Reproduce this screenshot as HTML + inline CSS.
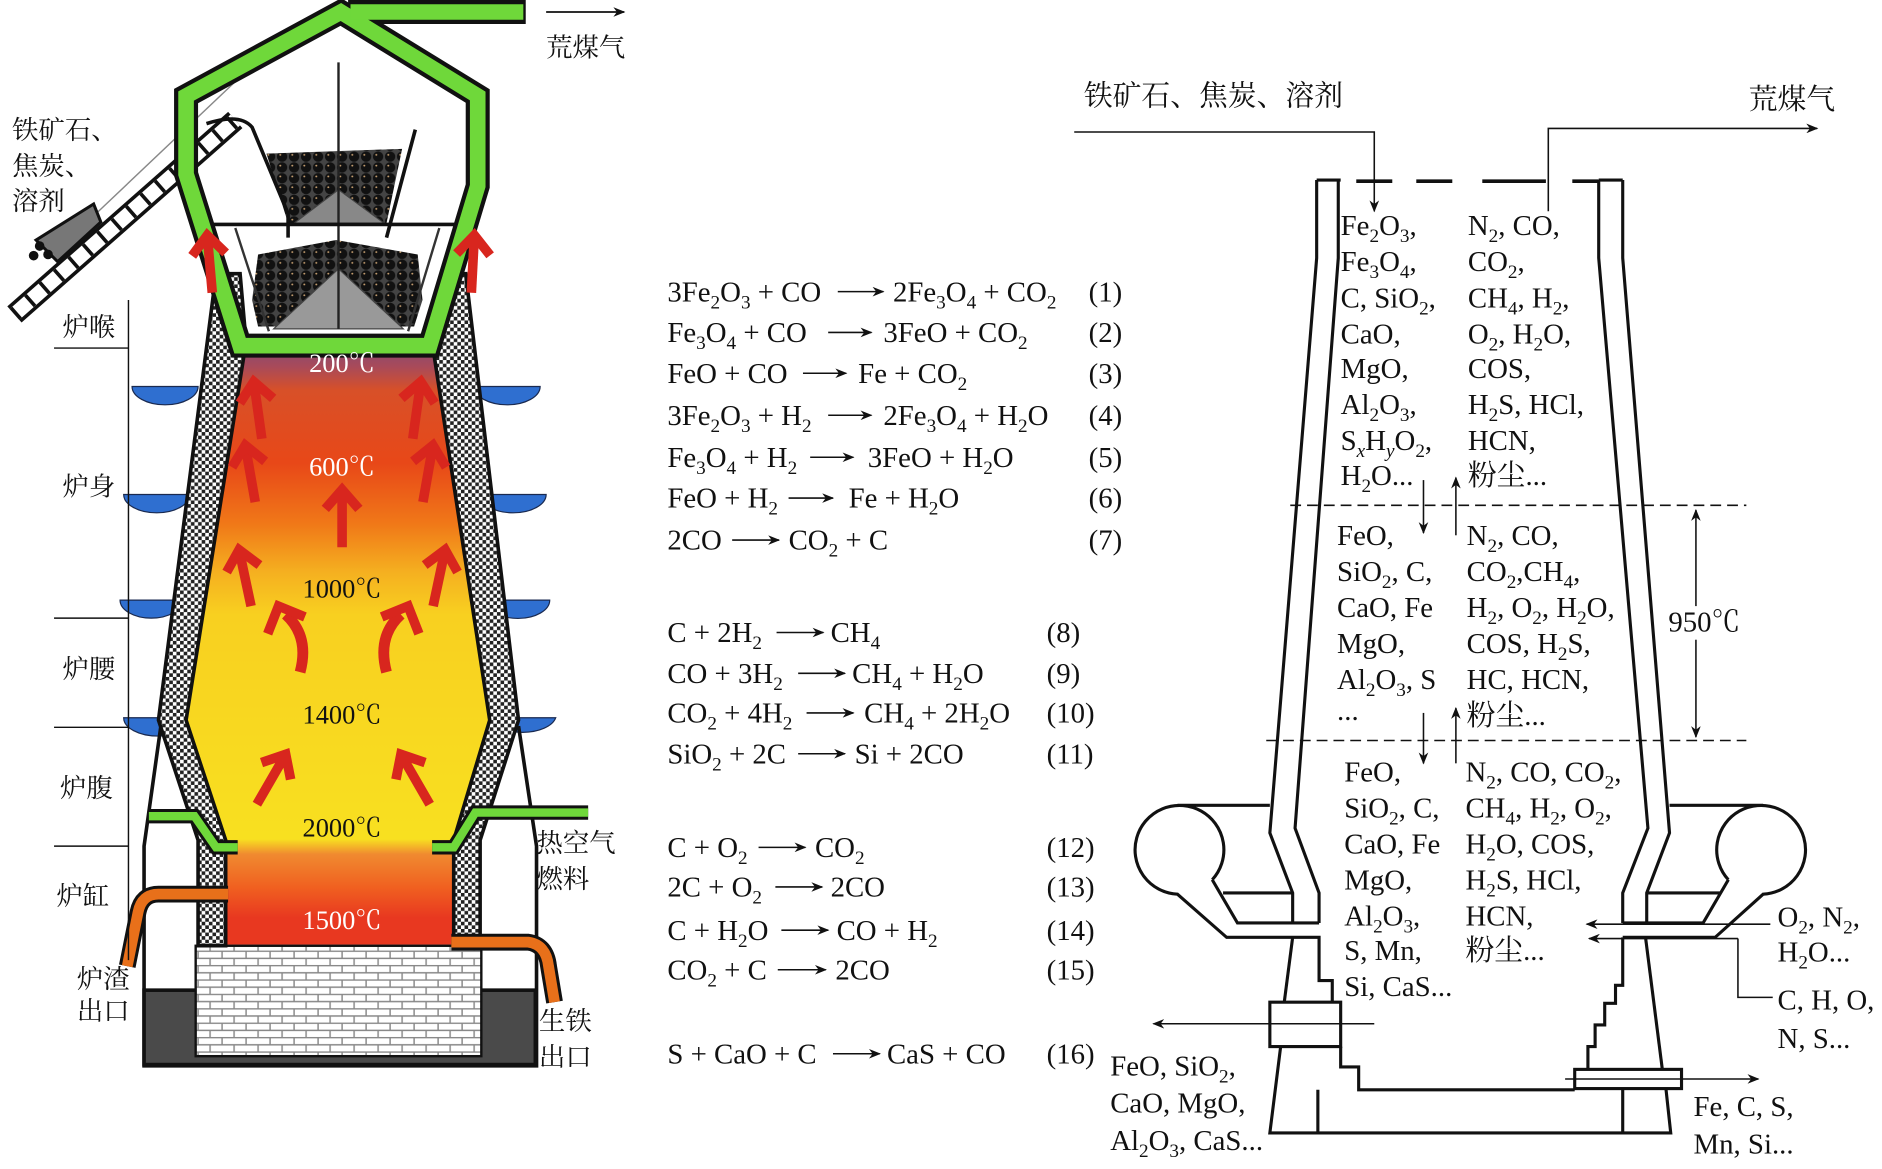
<!DOCTYPE html>
<html><head><meta charset="utf-8">
<style>
html,body{margin:0;padding:0;background:#fff;}
svg{display:block;}
text{font-family:"Liberation Serif","Noto Serif CJK SC",serif;fill:#111;}
.e{font-size:24px;}
.r{font-size:24px;}
.c{font-size:22px;}
.s{font-size:16px;baseline-shift:-6px;}
.tw{font-size:22px;fill:#fff;}
.td{font-size:22px;fill:#111;}
</style></head>
<body>
<svg width="1882" height="1169" viewBox="0 0 1568 974" xmlns="http://www.w3.org/2000/svg">
<defs>
<pattern id="chk" width="6" height="6" patternUnits="userSpaceOnUse">
<rect width="6" height="6" fill="#fff"/><rect width="3" height="3" fill="#222"/><rect x="3" y="3" width="3" height="3" fill="#222"/>
</pattern>
<pattern id="brick" width="20" height="12" patternUnits="userSpaceOnUse">
<rect width="20" height="12" fill="#fff"/>
<path d="M0 0.5H20M0 6.5H20M5 0V6M15 6V12" stroke="#888" stroke-width="1.2"/>
</pattern>
<pattern id="balls" width="10" height="9" patternUnits="userSpaceOnUse">
<rect width="10" height="9" fill="#444"/>
<circle cx="5" cy="4.5" r="4.3" fill="#111"/><circle cx="3.5" cy="3" r="0.8" fill="#c8a070"/>
</pattern>
<linearGradient id="hot" x1="0" y1="285" x2="0" y2="790" gradientUnits="userSpaceOnUse">
<stop offset="0" stop-color="#7d4a78"/>
<stop offset="0.04" stop-color="#a84a5a"/>
<stop offset="0.08" stop-color="#d85028"/>
<stop offset="0.2" stop-color="#e84818"/>
<stop offset="0.3" stop-color="#f07818"/>
<stop offset="0.38" stop-color="#f5b020"/>
<stop offset="0.45" stop-color="#f8d020"/>
<stop offset="0.82" stop-color="#f8e020"/>
<stop offset="0.845" stop-color="#f08a30"/>
<stop offset="0.9" stop-color="#f06020"/>
<stop offset="0.95" stop-color="#e83820"/>
<stop offset="1" stop-color="#e83820"/>
</linearGradient>
<g id="ra">
<path d="M0 44V2" stroke="#d8261e" stroke-width="8" fill="none"/>
<path d="M-14 12L0 -4L14 12" stroke="#d8261e" stroke-width="8" fill="none"/>
</g>
<marker id="ah" markerWidth="10" markerHeight="8" refX="9" refY="4" orient="auto" markerUnits="userSpaceOnUse">
<path d="M0 0L10 4L0 8L3 4Z" fill="#111"/>
</marker>
</defs>

<!-- ================= LEFT FURNACE ================= -->
<path d="M12 262L196 100" stroke="#111" stroke-width="18" fill="none"/>
<path d="M12 262L196 100" stroke="#fff" stroke-width="12" fill="none"/>
<path d="M12 262L196 100" stroke="#111" stroke-width="12" stroke-dasharray="3 13" fill="none"/>
<path d="M80 178L196 68" stroke="#888" stroke-width="1.2"/>
<polygon points="30,200 78,170 84,185 48,218" fill="#777" stroke="#111" stroke-width="2.5"/>
<circle cx="33" cy="205" r="4" fill="#111"/><circle cx="40" cy="212" r="4" fill="#111"/><circle cx="28" cy="213" r="4" fill="#111"/>

<g fill="#2f6fd0" stroke="#1a2a50" stroke-width="1">
<path d="M110 322H165A27 15 0 0 1 110 322Z"/>
<path d="M103 412H158A27 15 0 0 1 103 412Z"/>
<path d="M100 500H152A26 15 0 0 1 100 500Z"/>
<path d="M103 598H160A28 15 0 0 1 103 598Z"/>
<path d="M395 322H450A27 15 0 0 1 395 322Z"/>
<path d="M400 412H455A27 15 0 0 1 400 412Z"/>
<path d="M405 500H458A26 15 0 0 1 405 500Z"/>
<path d="M408 598H463A28 15 0 0 1 408 598Z"/>
</g>

<path d="M134 605L120 705V888H447V705L432 605" stroke="#111" stroke-width="3" fill="none"/>
<rect x="120" y="825" width="326" height="62" fill="#4a4a4a" stroke="#111" stroke-width="3"/>
<rect x="163" y="788" width="238" height="92" fill="url(#brick)" stroke="#111" stroke-width="2"/>

<polygon points="205,285 360,285 408,600 378,700 378,787 188,787 188,700 155,600" fill="url(#hot)"/>

<polygon points="180,228 200,228 205,285 155,600 188,700 188,788 165,788 165,700 132,600" fill="url(#chk)" stroke="#111" stroke-width="3"/>
<polygon points="388,228 368,228 360,285 408,600 378,700 378,788 400,788 400,700 432,600" fill="url(#chk)" stroke="#111" stroke-width="3"/>

<polygon points="222,128 335,124 322,186 240,186" fill="url(#balls)"/>
<polygon points="210,250 215,212 280,200 348,212 352,250 345,272 215,272" fill="url(#balls)"/>
<polygon points="245,186 282,158 320,186" fill="#888" stroke="#444"/>
<polygon points="228,274 282,224 336,274" fill="#999" stroke="#444"/>
<path d="M282 52V274" stroke="#222" stroke-width="2"/>
<path d="M172 103Q200 94 210 106L240 178V198" stroke="#111" stroke-width="3" fill="none"/>
<path d="M346 108L322 198" stroke="#111" stroke-width="3" fill="none"/>
<path d="M176 187H386" stroke="#111" stroke-width="3"/>
<path d="M196 190L224 276M366 190L340 276" stroke="#333" stroke-width="2"/>

<g fill="none" stroke-linejoin="miter">
<path d="M155 145L155 80L284 10L398 80L398 155L358 288H200L155 145Z" stroke="#111" stroke-width="20"/>
<path d="M290 10H438" stroke="#111" stroke-width="20"/>
<path d="M155 145L155 80L284 10L398 80L398 155L358 288H200L155 145Z" stroke="#6fd83a" stroke-width="13"/>
<path d="M292 10H436" stroke="#6fd83a" stroke-width="13"/>
</g>
<path d="M455 10H520" stroke="#111" stroke-width="1.5" marker-end="url(#ah)"/>

<g fill="none">
<path d="M490 677H396L378 706H360" stroke="#111" stroke-width="12"/>
<path d="M490 677H396L378 706H360" stroke="#6fd83a" stroke-width="7"/>
<path d="M124 680H162L180 706H198" stroke="#111" stroke-width="12"/>
<path d="M124 680H162L180 706H198" stroke="#6fd83a" stroke-width="7"/>
<path d="M190 745H132Q118 745 115 760L106 805" stroke="#111" stroke-width="14"/>
<path d="M190 745H132Q118 745 115 760L106 805" stroke="#e8701a" stroke-width="9"/>
<path d="M376 785H440Q455 787 457 805L462 835" stroke="#111" stroke-width="14"/>
<path d="M376 785H440Q455 787 457 805L462 835" stroke="#e8701a" stroke-width="9"/>
</g>

<use href="#ra" transform="translate(173,200) rotate(-5)"/>
<use href="#ra" transform="translate(395,200) rotate(3)"/>
<use href="#ra" transform="translate(212,322) rotate(-8)"/>
<use href="#ra" transform="translate(350,322) rotate(8)"/>
<use href="#ra" transform="translate(205,375) rotate(-10)"/>
<use href="#ra" transform="translate(360,375) rotate(10)"/>
<use href="#ra" transform="translate(200,462) rotate(-12)"/>
<use href="#ra" transform="translate(285,412)"/>
<use href="#ra" transform="translate(370,462) rotate(12)"/>
<path d="M250 560Q258 530 238 512" stroke="#d8261e" stroke-width="9" fill="none"/>
<path d="M223 528L232 505L254 514" stroke="#d8261e" stroke-width="8" fill="none"/>
<path d="M322 560Q314 530 334 512" stroke="#d8261e" stroke-width="9" fill="none"/>
<path d="M349 528L340 505L318 514" stroke="#d8261e" stroke-width="8" fill="none"/>
<use href="#ra" transform="translate(236,632) rotate(30)"/>
<use href="#ra" transform="translate(336,632) rotate(-30)"/>

<g text-anchor="middle">
<text class="tw" x="285" y="310">200℃</text>
<text class="tw" x="285" y="396">600℃</text>
<text class="td" x="285" y="498">1000℃</text>
<text class="td" x="285" y="603">1400℃</text>
<text class="td" x="285" y="697">2000℃</text>
<text class="tw" x="285" y="774">1500℃</text>
</g>

<path d="M107 250V800M45 290H107M45 515H107M45 606H107M45 705H107" stroke="#111" stroke-width="1.2" fill="none"/>
<text class="c" x="52" y="280">炉喉</text>
<text class="c" x="52" y="413">炉身</text>
<text class="c" x="52" y="565">炉腰</text>
<text class="c" x="50" y="664">炉腹</text>
<text class="c" x="47" y="754">炉缸</text>
<text class="c" x="64" y="823">炉渣</text>
<text class="c" x="64" y="850">出口</text>
<text class="c" x="449" y="858">生铁</text>
<text class="c" x="449" y="888">出口</text>
<text class="c" x="447" y="710">热空气</text>
<text class="c" x="447" y="740">燃料</text>
<text class="c" x="10" y="116">铁矿石、</text>
<text class="c" x="10" y="146">焦炭、</text>
<text class="c" x="10" y="175">溶剂</text>
<text class="c" x="455" y="47">荒煤气</text>

<!-- ================= EQUATIONS ================= -->
<g stroke="#111" stroke-width="1.3" fill="none">
<path d="M698 243H736" marker-end="url(#ah)"/>
<path d="M690 277H726" marker-end="url(#ah)"/>
<path d="M669 311H705" marker-end="url(#ah)"/>
<path d="M690 346H726" marker-end="url(#ah)"/>
<path d="M675 381H711" marker-end="url(#ah)"/>
<path d="M657 415H694" marker-end="url(#ah)"/>
<path d="M610 450H649" marker-end="url(#ah)"/>
<path d="M647 527H686" marker-end="url(#ah)"/>
<path d="M665 561H704" marker-end="url(#ah)"/>
<path d="M672 594H711" marker-end="url(#ah)"/>
<path d="M665 628H704" marker-end="url(#ah)"/>
<path d="M632 706H671" marker-end="url(#ah)"/>
<path d="M646 739H685" marker-end="url(#ah)"/>
<path d="M651 775H690" marker-end="url(#ah)"/>
<path d="M648 808H688" marker-end="url(#ah)"/>
<path d="M694 878H733" marker-end="url(#ah)"/>
</g>
<g class="e">
<text class="e" x="556" y="251">3Fe<tspan class="s">2</tspan>O<tspan class="s">3</tspan> + CO</text>
<text class="e" x="744" y="251">2Fe<tspan class="s">3</tspan>O<tspan class="s">4</tspan> + CO<tspan class="s">2</tspan></text>
<text class="e" x="556" y="285">Fe<tspan class="s">3</tspan>O<tspan class="s">4</tspan> + CO</text>
<text class="e" x="736" y="285">3FeO + CO<tspan class="s">2</tspan></text>
<text class="e" x="556" y="319">FeO + CO</text>
<text class="e" x="715" y="319">Fe + CO<tspan class="s">2</tspan></text>
<text class="e" x="556" y="354">3Fe<tspan class="s">2</tspan>O<tspan class="s">3</tspan> + H<tspan class="s">2</tspan></text>
<text class="e" x="736" y="354">2Fe<tspan class="s">3</tspan>O<tspan class="s">4</tspan> + H<tspan class="s">2</tspan>O</text>
<text class="e" x="556" y="389">Fe<tspan class="s">3</tspan>O<tspan class="s">4</tspan> + H<tspan class="s">2</tspan></text>
<text class="e" x="723" y="389">3FeO + H<tspan class="s">2</tspan>O</text>
<text class="e" x="556" y="423">FeO + H<tspan class="s">2</tspan></text>
<text class="e" x="707" y="423">Fe + H<tspan class="s">2</tspan>O</text>
<text class="e" x="556" y="458">2CO</text>
<text class="e" x="657" y="458">CO<tspan class="s">2</tspan> + C</text>
<text class="e" x="556" y="535">C + 2H<tspan class="s">2</tspan></text>
<text class="e" x="692" y="535">CH<tspan class="s">4</tspan></text>
<text class="e" x="556" y="569">CO + 3H<tspan class="s">2</tspan></text>
<text class="e" x="710" y="569">CH<tspan class="s">4</tspan> + H<tspan class="s">2</tspan>O</text>
<text class="e" x="556" y="602">CO<tspan class="s">2</tspan> + 4H<tspan class="s">2</tspan></text>
<text class="e" x="720" y="602">CH<tspan class="s">4</tspan> + 2H<tspan class="s">2</tspan>O</text>
<text class="e" x="556" y="636">SiO<tspan class="s">2</tspan> + 2C</text>
<text class="e" x="712" y="636">Si + 2CO</text>
<text class="e" x="556" y="714">C + O<tspan class="s">2</tspan></text>
<text class="e" x="679" y="714">CO<tspan class="s">2</tspan></text>
<text class="e" x="556" y="747">2C + O<tspan class="s">2</tspan></text>
<text class="e" x="692" y="747">2CO</text>
<text class="e" x="556" y="783">C + H<tspan class="s">2</tspan>O</text>
<text class="e" x="697" y="783">CO + H<tspan class="s">2</tspan></text>
<text class="e" x="556" y="816">CO<tspan class="s">2</tspan> + C</text>
<text class="e" x="696" y="816">2CO</text>
<text class="e" x="556" y="886">S + CaO + C</text>
<text class="e" x="739" y="886">CaS + CO</text>
<text class="e" x="907" y="251">(1)</text>
<text class="e" x="907" y="285">(2)</text>
<text class="e" x="907" y="319">(3)</text>
<text class="e" x="907" y="354">(4)</text>
<text class="e" x="907" y="389">(5)</text>
<text class="e" x="907" y="423">(6)</text>
<text class="e" x="907" y="458">(7)</text>
<text class="e" x="872" y="535">(8)</text>
<text class="e" x="872" y="569">(9)</text>
<text class="e" x="872" y="602">(10)</text>
<text class="e" x="872" y="636">(11)</text>
<text class="e" x="872" y="714">(12)</text>
<text class="e" x="872" y="747">(13)</text>
<text class="e" x="872" y="783">(14)</text>
<text class="e" x="872" y="816">(15)</text>
<text class="e" x="872" y="886">(16)</text>
</g>

<!-- ================= RIGHT DIAGRAM ================= -->
<g stroke="#111" fill="none" stroke-width="2.6" stroke-linejoin="miter">
<path d="M1097 150H1117M1097 150V215L1058 694L1077 744V769M1115 150V215L1079 690L1099 744V769"/>
<path d="M1352 150H1332M1352 150V215L1391 694L1372 744V769M1332 150V215L1373 690L1352 744V769"/>
<path d="M1130 151H1160M1180 151H1210M1235 151H1288M1310 151H1332" stroke-width="3"/>
<path d="M981 671H1058M1010 733A37 37 0 1 0 981 745L1022 781H1099V817H1110V835M1010 733L1031 769H1099M1019 744H1077"/>
<path d="M1077 781L1070 835"/>
<rect x="1058" y="835" width="59" height="37"/>
<path d="M1067 872L1058 944H1392L1388 907M1117 872V889H1132V908H1312M1098 908V944"/>
<path d="M1469 671H1391M1440 733A37 37 0 1 1 1469 745L1429 781H1352M1440 733L1419 769H1352M1433 744H1372"/>
<path d="M1371 781L1385 891"/>
<rect x="1312" y="891" width="89" height="16"/>
<path d="M1323 891V872H1329V854H1337V836H1346V821H1352V781M1352 908V944"/>
</g>
<g stroke="#111" stroke-width="1.3" fill="none">
<path d="M1075 421H1455M1055 617H1455" stroke-dasharray="9 5"/>
<path d="M895 110H1145V176" marker-end="url(#ah)"/>
<path d="M1290 176V107H1514" marker-end="url(#ah)"/>
<path d="M1413 520V425" marker-end="url(#ah)"/>
<path d="M1413 520V614" marker-end="url(#ah)"/>
<path d="M1186 400V444" marker-end="url(#ah)"/>
<path d="M1186 594V636" marker-end="url(#ah)"/>
<path d="M1213 446V398" marker-end="url(#ah)"/>
<path d="M1213 636V590" marker-end="url(#ah)"/>
<path d="M1475 770H1322" marker-end="url(#ah)"/>
<path d="M1448 782H1324" marker-end="url(#ah)"/>
<path d="M1448 782V831H1477"/>
<path d="M1145 853H961" marker-end="url(#ah)"/>
<path d="M1304 899H1465" marker-end="url(#ah)"/>
</g>
<rect x="1390" y="505" width="64" height="28" fill="#fff"/>
<text class="r" x="1390" y="526">950℃</text>
<text class="r" x="903" y="88">铁矿石、焦炭、溶剂</text>
<text class="r" x="1457" y="91">荒煤气</text>

<g class="r">
<text class="r" x="1117" y="196">Fe<tspan class="s">2</tspan>O<tspan class="s">3</tspan>,</text>
<text class="r" x="1117" y="226">Fe<tspan class="s">3</tspan>O<tspan class="s">4</tspan>,</text>
<text class="r" x="1117" y="256">C, SiO<tspan class="s">2</tspan>,</text>
<text class="r" x="1117" y="286">CaO,</text>
<text class="r" x="1117" y="315">MgO,</text>
<text class="r" x="1117" y="345">Al<tspan class="s">2</tspan>O<tspan class="s">3</tspan>,</text>
<text class="r" x="1117" y="375">S<tspan class="s" font-style="italic">x</tspan>H<tspan class="s" font-style="italic">y</tspan>O<tspan class="s">2</tspan>,</text>
<text class="r" x="1117" y="404">H<tspan class="s">2</tspan>O...</text>
<text class="r" x="1223" y="196">N<tspan class="s">2</tspan>, CO,</text>
<text class="r" x="1223" y="226">CO<tspan class="s">2</tspan>,</text>
<text class="r" x="1223" y="256">CH<tspan class="s">4</tspan>, H<tspan class="s">2</tspan>,</text>
<text class="r" x="1223" y="286">O<tspan class="s">2</tspan>, H<tspan class="s">2</tspan>O,</text>
<text class="r" x="1223" y="315">COS,</text>
<text class="r" x="1223" y="345">H<tspan class="s">2</tspan>S, HCl,</text>
<text class="r" x="1223" y="375">HCN,</text>
<text class="r" x="1223" y="404">粉尘...</text>

<text class="r" x="1114" y="454">FeO,</text>
<text class="r" x="1114" y="484">SiO<tspan class="s">2</tspan>, C,</text>
<text class="r" x="1114" y="514">CaO, Fe</text>
<text class="r" x="1114" y="544">MgO,</text>
<text class="r" x="1114" y="574">Al<tspan class="s">2</tspan>O<tspan class="s">3</tspan>, S</text>
<text class="r" x="1114" y="600">...</text>
<text class="r" x="1222" y="454">N<tspan class="s">2</tspan>, CO,</text>
<text class="r" x="1222" y="484">CO<tspan class="s">2</tspan>,CH<tspan class="s">4</tspan>,</text>
<text class="r" x="1222" y="514">H<tspan class="s">2</tspan>, O<tspan class="s">2</tspan>, H<tspan class="s">2</tspan>O,</text>
<text class="r" x="1222" y="544">COS, H<tspan class="s">2</tspan>S,</text>
<text class="r" x="1222" y="574">HC, HCN,</text>
<text class="r" x="1222" y="604">粉尘...</text>

<text class="r" x="1120" y="651">FeO,</text>
<text class="r" x="1120" y="681">SiO<tspan class="s">2</tspan>, C,</text>
<text class="r" x="1120" y="711">CaO, Fe</text>
<text class="r" x="1120" y="741">MgO,</text>
<text class="r" x="1120" y="771">Al<tspan class="s">2</tspan>O<tspan class="s">3</tspan>,</text>
<text class="r" x="1120" y="800">S, Mn,</text>
<text class="r" x="1120" y="830">Si, CaS...</text>
<text class="r" x="1221" y="651">N<tspan class="s">2</tspan>, CO, CO<tspan class="s">2</tspan>,</text>
<text class="r" x="1221" y="681">CH<tspan class="s">4</tspan>, H<tspan class="s">2</tspan>, O<tspan class="s">2</tspan>,</text>
<text class="r" x="1221" y="711">H<tspan class="s">2</tspan>O, COS,</text>
<text class="r" x="1221" y="741">H<tspan class="s">2</tspan>S, HCl,</text>
<text class="r" x="1221" y="771">HCN,</text>
<text class="r" x="1221" y="800">粉尘...</text>

<text class="r" x="1481" y="772">O<tspan class="s">2</tspan>, N<tspan class="s">2</tspan>,</text>
<text class="r" x="1481" y="801">H<tspan class="s">2</tspan>O...</text>
<text class="r" x="1481" y="841">C, H, O,</text>
<text class="r" x="1481" y="873">N, S...</text>
<text class="r" x="925" y="896">FeO, SiO<tspan class="s">2</tspan>,</text>
<text class="r" x="925" y="927">CaO, MgO,</text>
<text class="r" x="925" y="958">Al<tspan class="s">2</tspan>O<tspan class="s">3</tspan>, CaS...</text>
<text class="r" x="1411" y="930">Fe, C, S,</text>
<text class="r" x="1411" y="961">Mn, Si...</text>
</g>
</svg>
</body></html>
